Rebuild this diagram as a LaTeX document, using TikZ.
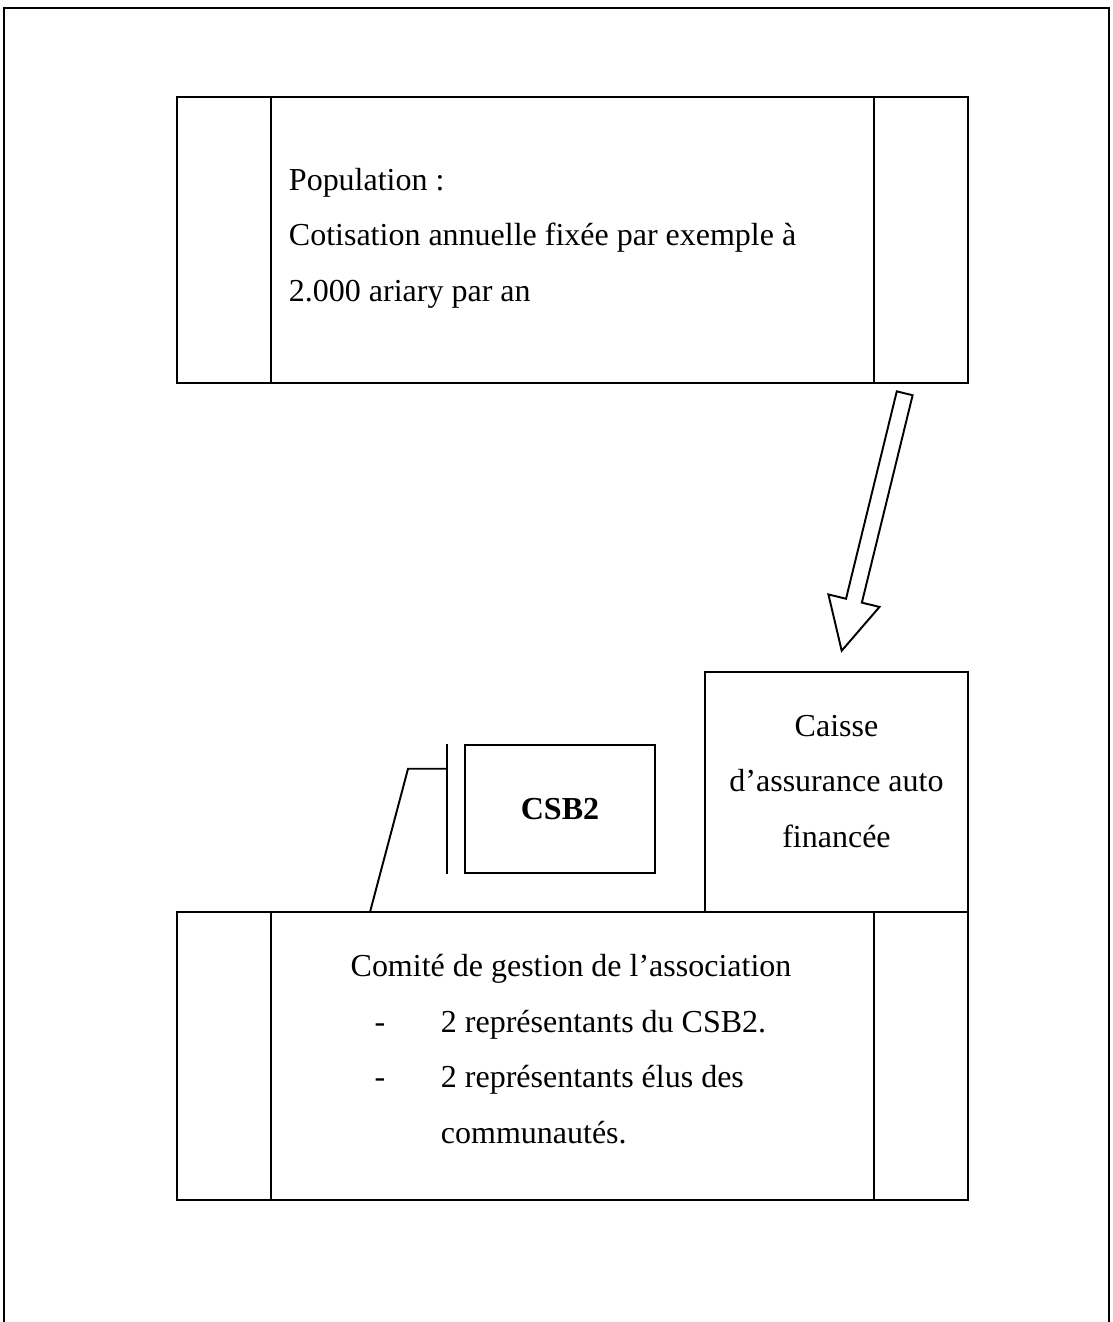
\documentclass[tikz,border=0pt]{standalone}
\usepackage{fontspec}
\setmainfont{Liberation Serif}
\usetikzlibrary{calc,positioning}
\def\pxu{0.3876pt}

\tikzset{
  panel/.style={draw, line width=0.75pt, inner sep=0pt},
  plain text/.style={inner sep=0pt, font=\fontsize{12.4}{21.5}\selectfont},
}

\begin{document}
\begin{tikzpicture}[x=0.3876pt, y=-0.3876pt, line width=0.75pt]
  \useasboundingbox (0,0) rectangle (1113,1322);
  % page frame, open at the bottom
  \draw (4,1322) -- (4,8) -- (1109,8) -- (1109,1322);

  % population box
  \node[panel, minimum width=791*\pxu, minimum height=286*\pxu] (pop) at (572.5,240) {};
  \draw ([xshift=95*\pxu]pop.north west) -- ([xshift=95*\pxu]pop.south west);
  \draw ([xshift=-95*\pxu]pop.north east) -- ([xshift=-95*\pxu]pop.south east);
  % base anchor = last line
  \node[plain text, anchor=base west, align=left] (poptext) at (288,301)
    {Population :\\Cotisation annuelle fixée par exemple à\\2.000 ariary par an};

  % caisse
  \node[panel, minimum width=263*\pxu, minimum height=240*\pxu] (caisse) at (836.5,792) {};
  \node[plain text, anchor=base, align=center] (caissetext) at (836.5,847)
    {Caisse\\d’assurance auto\\financée};

  % flow arrow from population to caisse
  \coordinate (flowtail) at (904.7,393.3);
  \coordinate (flowtip) at (841.7,650.7);
  \coordinate (flowneck) at ($(flowtip)!19.96pt!(flowtail)$);
  \draw[line join=miter]
    ($(flowtail)!3.16pt!90:(flowtip)$) -- ($(flowneck)!3.16pt!90:(flowtip)$)
    -- ($(flowneck)!10.19pt!90:(flowtip)$) -- (flowtip)
    -- ($(flowneck)!10.19pt!-90:(flowtip)$) -- ($(flowneck)!3.16pt!-90:(flowtip)$)
    -- ($(flowtail)!3.16pt!-90:(flowtip)$) -- cycle;

  % comite box
  \node[panel, minimum width=791*\pxu, minimum height=288*\pxu] (comite) at (572.5,1056) {};
  \draw ([xshift=95*\pxu]comite.north west) -- ([xshift=95*\pxu]comite.south west);
  \draw ([xshift=-95*\pxu]comite.north east) -- ([xshift=-95*\pxu]comite.south east);
  \node[plain text, anchor=base] (comitetitle) at (571,976) {Comité de gestion de l’association};
  \node[plain text, anchor=base] (dashone) at (380,1032) {-};
  \node[plain text, anchor=base west] (itemone) at (440,1032) {2 représentants du CSB2.};
  \node[plain text, anchor=base] (dashtwo) at (380,1087) {-};
  \node[plain text, anchor=base west, align=left] (itemtwo) at (440,1143)
    {2 représentants élus des\\communautés.};

  % CSB2 with its bracket
  \node[panel, minimum width=190*\pxu, minimum height=128*\pxu, font=\fontsize{12.4}{14}\selectfont\bfseries] (csb) at (560,809) {CSB2};
  \coordinate (bartop) at ([xshift=-17*\pxu]csb.north west);
  \coordinate (barbot) at ([xshift=-17*\pxu]csb.south west);
  \coordinate (barknee) at ($(bartop)!0.19!(barbot)$);
  \coordinate (foot) at (370,912);
  \draw (bartop) -- (barbot);
  \draw (barknee) -- ++(-39,0) -- (foot);
\end{tikzpicture}
\end{document}
